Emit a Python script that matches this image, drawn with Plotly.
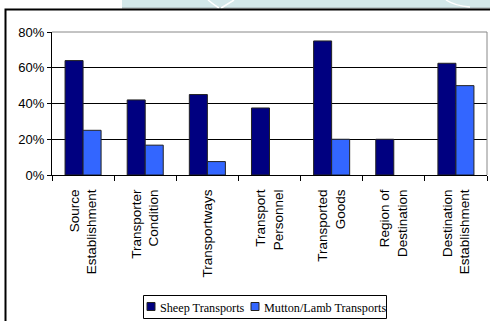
import plotly.graph_objects as go

categories = [
    "Source<br>Establishment",
    "Transporter<br>Condition",
    "Transportways",
    "Transport<br>Personnel",
    "Transported<br>Goods",
    "Region of<br>Destination",
    "Destination<br>Establishment",
]
sheep = [64, 42, 45, 37.5, 75, 20, 62.5]
mutton = [25, 16.7, 7.5, 0, 20, 0, 50]
y_ticks = [0, 20, 40, 60, 80]
y_tick_text = ["0%", "20%", "40%", "60%", "80%"]
series_names = ["Sheep Transports", "Mutton/Lamb Transports"]
series_colors = ["#000080", "#3366FF"]

W, H = 490, 321
L, R, T, B = 52, 3, 32, 146
PW = W - L - R
PH = H - T - B


def px(x):
    return (x - L) / PW


def py(y):
    return (H - B - y) / PH


def outline(vals):
    # no outline on empty bars
    return [1 if v > 0 else 0 for v in vals]


fig = go.Figure()
for name, vals, color in zip(series_names, [sheep, mutton], series_colors):
    fig.add_trace(go.Bar(
        x=categories, y=vals, name=name,
        marker=dict(color=color, line=dict(color="#222222", width=outline(vals))),
    ))

shapes = [
    # pale banner strip along the top edge
    dict(type="rect", xref="paper", yref="paper",
         x0=px(122), x1=px(495), y0=py(-2), y1=py(8),
         fillcolor="#d3e8ea", line=dict(width=0), layer="below"),
    dict(type="line", xref="paper", yref="paper",
         x0=px(122), x1=px(495), y0=py(8), y1=py(8),
         line=dict(color="#9aa8aa", width=1)),
    # white swirl lines in the banner
    dict(type="path", xref="paper", yref="paper",
         path=f"M {px(208)} {py(0)} Q {px(214)} {py(5)} {px(219)} {py(8)}",
         line=dict(color="white", width=1.5)),
    dict(type="path", xref="paper", yref="paper",
         path=f"M {px(234)} {py(0)} Q {px(226)} {py(5)} {px(221)} {py(8)}",
         line=dict(color="white", width=1.5)),
    dict(type="path", xref="paper", yref="paper",
         path=f"M {px(446)} {py(0)} Q {px(455)} {py(6)} {px(470)} {py(7)}",
         line=dict(color="white", width=1.5)),
    # outer chart frame
    dict(type="rect", xref="paper", yref="paper",
         x0=px(5.5), x1=px(500), y0=py(9.5), y1=py(340),
         line=dict(color="black", width=2)),
    # plot area border
    dict(type="line", xref="paper", yref="paper",
         x0=0, x1=1, y0=1, y1=1, line=dict(color="#888888", width=1)),
    dict(type="line", xref="paper", yref="paper",
         x0=1, x1=1, y0=0, y1=1, line=dict(color="#888888", width=1)),
    # legend box
    dict(type="rect", xref="paper", yref="paper",
         x0=px(143.5), x1=px(386.5), y0=py(295.5), y1=py(318.5),
         line=dict(color="black", width=1), fillcolor="white"),
]

# legend swatches and labels
annotations = []
legend_items = [(147, 158), (251, 262)]
for (sx, tx), name, color in zip(legend_items, series_names, series_colors):
    shapes.append(dict(type="rect", xref="paper", yref="paper",
                       x0=px(sx), x1=px(sx + 8), y0=py(302.5), y1=py(310.5),
                       fillcolor=color, line=dict(color="#222222", width=1)))
    annotations.append(dict(xref="paper", yref="paper", x=px(tx), y=py(307.5),
                            xanchor="left", yanchor="middle", showarrow=False,
                            text=name,
                            font=dict(family="Liberation Serif", size=12.2,
                                      color="black")))

fig.update_layout(
    width=W, height=H,
    margin=dict(l=L, r=R, t=T, b=B, autoexpand=False),
    paper_bgcolor="white", plot_bgcolor="white",
    barmode="group", bargap=0.42, bargroupgap=0,
    font=dict(family="Liberation Sans", size=13, color="black"),
    showlegend=False,
    shapes=shapes,
    annotations=annotations,
    xaxis=dict(
        type="category", tickangle=-90, tickson="boundaries",
        ticks="outside", ticklen=5, tickcolor="black",
        tickfont=dict(size=13.5), ticklabelstandoff=8,
        showline=True, linecolor="black", linewidth=1,
        showgrid=False, fixedrange=True, automargin=False,
    ),
    yaxis=dict(
        range=[0, 80], tickvals=y_ticks, ticktext=y_tick_text,
        ticks="outside", ticklen=4, tickcolor="black",
        showline=True, linecolor="black", linewidth=1,
        showgrid=True, gridcolor="black", gridwidth=1,
        zeroline=False, fixedrange=True, automargin=False,
    ),
)

fig.write_html("out.html")
